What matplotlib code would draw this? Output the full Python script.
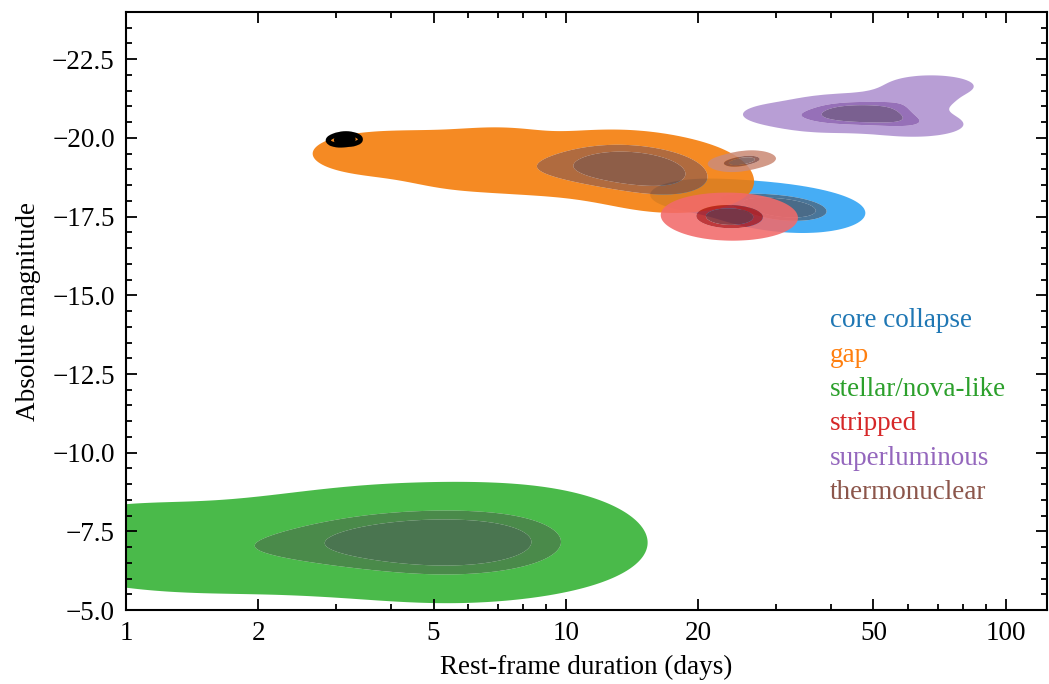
import numpy as np
import matplotlib
matplotlib.use("Agg")
import matplotlib.pyplot as plt
from matplotlib.lines import Line2D
from matplotlib.ticker import FixedLocator, NullFormatter, FuncFormatter, MultipleLocator

# Rest-frame durations (days) and peak absolute magnitudes per transient class
cc_days = [24.0, 27.5, 30.2, 32.4, 34.7, 35.5, 29.5, 20.0]
cc_mags = [-18.1, -18.0, -17.9, -17.75, -17.7, -17.5, -17.7, -18.2]

gap_days = [11.0, 12.0, 13.2, 14.1, 15.1, 16.2, 17.0, 17.4, 13.8, 12.6, 18.0,
            8.5, 7.1, 6.0, 4.8, 3.6]
gap_mags = [-19.2, -18.9, -19.3, -19.0, -18.8, -19.2, -18.9, -18.6, -19.1, -19.5, -18.3,
            -18.9, -19.7, -19.0, -19.5, -19.5]

nova_days = [1.0, 1.5, 2.2, 2.9, 3.5, 4.1, 4.7, 5.2, 5.9, 6.6, 7.6, 8.6]
nova_mags = [-7.1, -6.9, -7.1, -7.0, -7.4, -7.0, -7.5, -6.7, -7.3, -6.9, -7.6, -7.0]

stripped_days = [21.4, 22.9, 24.5, 25.7, 23.4]
stripped_mags = [-17.6, -17.4, -17.6, -17.4, -17.5]

slsn_days = [38.0, 39.8, 42.7, 44.7, 46.8, 49.0, 52.5, 55.0, 57.5, 31.6, 60.3, 67.6, 63.1]
slsn_mags = [-20.55, -20.95, -20.7, -21.0, -20.6, -20.85, -20.65, -20.95, -20.55, -20.75,
             -21.25, -21.65, -20.4]

thermo_days = [23.7, 25.1, 26.6]
thermo_mags = [-19.17, -19.26, -19.35]

other_days = [3.05, 3.15, 3.22]
other_mags = [-19.92, -19.98, -19.95]

labels = ["core collapse", "gap", "stellar/nova-like", "stripped", "superluminous", "thermonuclear"]
label_colors = ["#1f77b4", "#ff7f0e", "#2ca02c", "#d62728", "#9467bd", "#8c564b"]

# fill colours for the outer / middle / inner density bands
band_colors = {
    "core collapse": ["#2ca2f4", "#31628a", "#315678"],
    "gap": ["#f47a04", "#a55624", "#7f482f"],
    "stellar/nova-like": ["#31b131", "#317a31", "#316238"],
    "stripped": ["#f26a6a", "#b71d21", "#7f262f"],
    "superluminous": ["#ae91d0", "#885cae", "#684a81"],
    "thermonuclear": ["#cc8c78", "#884f44", "#7c5a56"],
}
# kernel widths in (log10 days, mag)
bandwidths = {
    "core collapse": (0.065, 0.28),
    "gap": (0.09, 0.42),
    "stellar/nova-like": (0.14, 0.75),
    "stripped": (0.058, 0.30),
    "superluminous": (0.06, 0.21),
    "thermonuclear": (0.025, 0.12),
}
HDR_MASS = [0.95, 0.5, 0.3]

plt.rcParams["font.family"] = "serif"
plt.rcParams["font.serif"] = ["Liberation Serif", "DejaVu Serif"]
plt.rcParams["font.size"] = 19.5

gu = np.linspace(-0.8, 2.5, 600)
gm = np.linspace(-26, -2, 600)
U, M = np.meshgrid(gu, gm)


def kde(days, mags, bw):
    z = np.zeros_like(U)
    for u, m in zip(np.log10(days), mags):
        z += np.exp(-0.5 * (((U - u) / bw[0]) ** 2 + ((M - m) / bw[1]) ** 2))
    return z / z.sum()


def hdr_levels(z, masses):
    flat = np.sort(z.ravel())[::-1]
    cum = np.cumsum(flat)
    return sorted(flat[min(np.searchsorted(cum, m), flat.size - 1)] for m in masses)


fig = plt.figure(figsize=(10.49, 6.84), dpi=100)
ax = fig.add_axes([0.1201, 0.108, 0.878, 0.8745])

data = {
    "core collapse": (cc_days, cc_mags),
    "gap": (gap_days, gap_mags),
    "stellar/nova-like": (nova_days, nova_mags),
    "stripped": (stripped_days, stripped_mags),
    "superluminous": (slsn_days, slsn_mags),
    "thermonuclear": (thermo_days, thermo_mags),
}

for name in labels:
    days, mags = data[name]
    z = kde(days, mags, bandwidths[name])
    lev = hdr_levels(z, HDR_MASS)
    ax.contourf(10 ** U, M, z, levels=lev + [z.max() * 1.01],
                colors=band_colors[name], alpha=0.88, antialiased=True)

# unclassified objects, outlined only
z = kde(other_days, other_mags, (0.012, 0.07))
ax.contour(10 ** U, M, z, levels=hdr_levels(z, HDR_MASS), colors="black", linewidths=3.5)

ax.set_xscale("log")
ax.set_xlim(1, 124)
ax.set_ylim(-5, -24)

ax.xaxis.set_major_locator(FixedLocator([1, 2, 5, 10, 20, 50, 100]))
ax.xaxis.set_major_formatter(FuncFormatter(lambda v, p: f"{v:g}"))
ax.xaxis.set_minor_locator(FixedLocator([3, 4, 6, 7, 8, 9, 30, 40, 60, 70, 80, 90]))
ax.xaxis.set_minor_formatter(NullFormatter())
ax.yaxis.set_major_locator(MultipleLocator(2.5))
ax.yaxis.set_minor_locator(MultipleLocator(0.5))

ax.tick_params(which="both", direction="in", top=True, right=True, width=1.3)
ax.tick_params(which="major", length=8, pad=8)
ax.tick_params(which="minor", length=4.5)
for s in ax.spines.values():
    s.set_linewidth(1.5)

ax.set_xlabel("Rest-frame duration (days)", labelpad=6)
ax.set_ylabel("Absolute magnitude", labelpad=8)

handles = [Line2D([], [], linestyle="none") for _ in labels]
ax.legend(handles, labels, labelcolor=label_colors, handlelength=0, handletextpad=0,
          frameon=False, loc="center left", bbox_to_anchor=(0.764, 0.34),
          borderaxespad=0, borderpad=0, labelspacing=0.35)

fig.savefig("out.png", dpi=100)
